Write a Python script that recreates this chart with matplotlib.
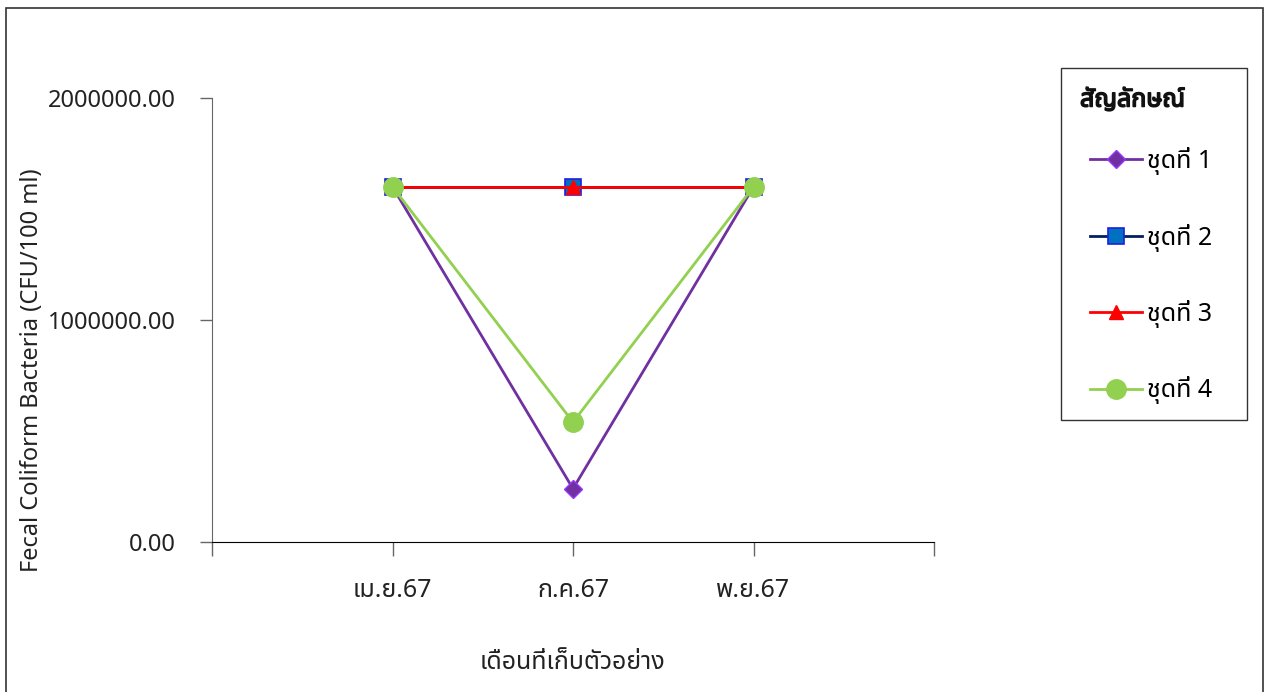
import matplotlib
matplotlib.use('Agg')
import matplotlib.pyplot as plt
import matplotlib.patheffects as pe
from matplotlib.patches import Rectangle

# sampling months and series values (CFU/100 ml)
months = ['เม.ย.67', 'ก.ค.67', 'พ.ย.67']
set_1 = [1600000, 240000, 1600000]
set_2 = [1600000, 1600000, 1600000]
set_3 = [1600000, 1600000, 1600000]
set_4 = [1600000, 540000, 1600000]
series_names = ['ชุดที่ 1', 'ชุดที่ 2', 'ชุดที่ 3', 'ชุดที่ 4']
y_ticks = [0, 1000000, 2000000]

plt.rcParams['font.family'] = ['Noto Sans Thai', 'Noto Sans Thai UI', 'Loma', 'Garuda',
                               'Tlwg Typo', 'Norasi', 'Sarabun', 'DejaVu Sans']

W, H = 1270, 692
fig = plt.figure(figsize=(W / 100, H / 100), dpi=100)
ax = fig.add_axes([212 / W, 1 - 542 / H, 722 / W, 444 / H])

x = list(range(len(months)))
ax.plot(x, set_1, color='#7030A0', lw=2, marker='D', ms=9,
        mfc='#7030A0', mec='#9933FF', mew=1, label=series_names[0])
ax.plot(x, set_2, color='#002060', lw=2, marker='s', ms=12,
        mfc='#0070C0', mec='#1F1FE0', mew=1.2, label=series_names[1])
ax.plot(x, set_3, color='#FF0000', lw=2, marker='^', ms=10,
        mfc='#FF0000', mec='#FF0000', label=series_names[2])
ax.plot(x, set_4, color='#92D050', lw=2, marker='o', ms=14,
        mfc='#92D050', mec='#92D050', label=series_names[3])

ax.set_xlim(-1, 3)
ax.set_ylim(0, 2000000)
ax.set_xticks([-1, 0, 1, 2, 3])
ax.set_xticklabels([''] + months + [''], fontsize=18, color='#222222')
ax.set_yticks(y_ticks)
ax.set_yticklabels([f'{v:.2f}' for v in y_ticks], fontsize=17, color='#222222')
ax.tick_params(axis='x', length=10, width=1, color='#666666', pad=16)
ax.tick_params(axis='y', length=9, width=1, color='#666666', pad=17)

for side in ['top', 'right']:
    ax.spines[side].set_visible(False)
ax.spines['left'].set_color('#666666')
ax.spines['bottom'].set_color('black')

ax.set_ylabel('Fecal Coliform Bacteria (CFU/100 ml)', fontsize=17, color='#222222')
ax.yaxis.set_label_coords((44 - 212) / 722, (542 - 370) / 444)
ax.set_xlabel('เดือนที่เก็บตัวอย่าง', fontsize=18, color='#222222', labelpad=34)

# legend: entries without frame, title and box drawn separately
leg = fig.legend(loc='upper left', bbox_to_anchor=(1090 / W, 1 - 147 / H),
                 fontsize=18, frameon=False, labelspacing=1.94,
                 handlelength=2.08, handletextpad=0.2,
                 borderpad=0, borderaxespad=0)
fig.text(1080 / W, 1 - 100 / H, 'สัญลักษณ์', fontsize=18, fontweight='bold',
         color='#111111', ha='left', va='center',
         path_effects=[pe.withStroke(linewidth=1.1, foreground='#111111')])
fig.patches.append(Rectangle((1061 / W, 1 - 420 / H), 186 / W, 352 / H,
                             transform=fig.transFigure, fill=False,
                             edgecolor='#333333', lw=1))

# outer frame around the whole chart area
fig.patches.append(Rectangle((6 / W, -0.05), 1257 / W, 1.05 - 8 / H,
                             transform=fig.transFigure, fill=False,
                             edgecolor='#333333', lw=1.2))

fig.savefig('out.png', dpi=100)
